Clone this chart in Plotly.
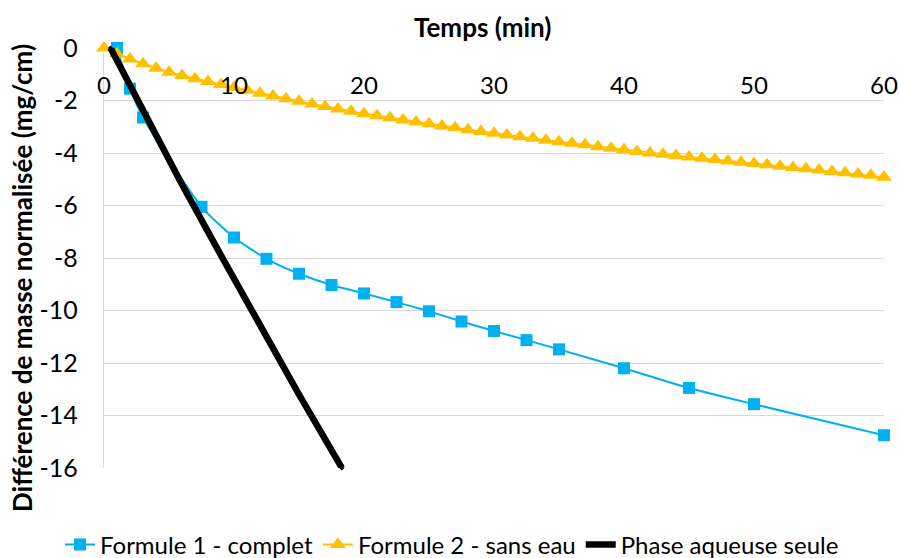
import plotly.graph_objects as go

# Formule 1 - complet
t_f1 = [1, 2, 3, 7.5, 10, 12.5, 15, 17.5, 20, 22.5, 25, 27.5, 30, 32.5, 35, 40, 45, 50, 60]
y_f1 = [0, -1.55, -2.65, -6.05, -7.22, -8.03, -8.6, -9.03, -9.35, -9.68, -10.03, -10.42,
        -10.78, -11.13, -11.48, -12.2, -12.95, -13.57, -14.75]

# Formule 2 - sans eau
t_f2 = list(range(0, 61))
y_f2 = [0, -0.22, -0.42, -0.6, -0.77, -0.92, -1.05, -1.17, -1.28, -1.39,
        -1.5, -1.61, -1.72, -1.83, -1.93, -2.03, -2.13, -2.23, -2.32, -2.41,
        -2.5, -2.58, -2.66, -2.74, -2.82, -2.89, -2.97, -3.04, -3.11, -3.18,
        -3.25, -3.31, -3.38, -3.44, -3.51, -3.57, -3.63, -3.69, -3.76, -3.82,
        -3.88, -3.94, -4.0, -4.05, -4.1, -4.15, -4.2, -4.25, -4.3, -4.35,
        -4.4, -4.45, -4.5, -4.55, -4.6, -4.65, -4.7, -4.75, -4.8, -4.85, -4.92]

# Phase aqueuse seule
t_aq = [0.5, 3, 6, 9, 12, 15, 18.3]
y_aq = [0, -2.4, -5.2, -7.9, -10.6, -13.2, -16.0]

x_ticks = [0, 10, 20, 30, 40, 50, 60]
y_ticks = [0, -2, -4, -6, -8, -10, -12, -14, -16]

FONT = "Lato"
W, H = 899, 558
ML, MR, MT, MB = 104, 15, 48, 90
pw, ph = W - ML - MR, H - MT - MB


def px_x(x):
    return (x - ML) / pw


def px_y(y):
    return (H - MB - y) / ph


fig = go.Figure()
fig.add_trace(go.Scatter(
    x=t_f1, y=y_f1, name="Formule 1 - complet", mode="lines+markers",
    line=dict(color="#00B0F0", width=2, shape="spline", smoothing=0.6),
    marker=dict(symbol="square", size=12, color="#00B0F0"),
    cliponaxis=False))
fig.add_trace(go.Scatter(
    x=t_f2, y=y_f2, name="Formule 2 - sans eau", mode="lines+markers",
    line=dict(color="#FFC000", width=2),
    marker=dict(symbol="triangle-up", size=14, color="#FFC000"),
    cliponaxis=False))
fig.add_trace(go.Scatter(
    x=t_aq, y=y_aq, name="Phase aqueuse seule", mode="lines+markers",
    line=dict(color="#000000", width=6.5),
    marker=dict(symbol="diamond", size=4, color="#000000"),
    cliponaxis=False))

fig.update_layout(
    width=W, height=H,
    margin=dict(l=ML, r=MR, t=MT, b=MB, autoexpand=False),
    paper_bgcolor="white", plot_bgcolor="white",
    font=dict(family=FONT, size=24, color="#000000"),
    showlegend=True,
    legend=dict(orientation="h", x=px_x(452), xanchor="center", xref="paper",
                y=px_y(545), yanchor="middle", font=dict(size=24, color="#000000"),
                itemwidth=30, tracegroupgap=0),
    xaxis=dict(range=[0, 60], tickvals=x_ticks, ticktext=[str(v) for v in x_ticks],
               anchor="free", position=1.0, side="bottom", automargin=False,
               showgrid=False, zeroline=False, showline=False,
               ticks="outside", ticklen=16, tickcolor="rgba(0,0,0,0)",
               tickfont=dict(size=24, color="#000000")),
    yaxis=dict(range=[-16, 0], tickvals=y_ticks, ticktext=[str(v) for v in y_ticks],
               automargin=False,
               showgrid=True, gridcolor="#D9D9D9", gridwidth=1.3,
               zeroline=False, showline=True, linecolor="#D9D9D9", linewidth=1.3,
               ticks="outside", ticklen=20, tickcolor="rgba(0,0,0,0)",
               tickfont=dict(size=25, color="#000000")),
)
fig.add_annotation(text="<b>Temps (min)</b>", x=px_x(482), y=px_y(27), xref="paper", yref="paper",
                   xanchor="center", yanchor="middle",
                   showarrow=False, font=dict(size=26, color="#000000"))
fig.add_annotation(text="<b>Différence de masse normalisée (mg/cm)</b>", x=px_x(22), y=px_y(278),
                   xref="paper", yref="paper", xanchor="center", yanchor="middle",
                   textangle=-90, showarrow=False,
                   font=dict(size=26, color="#000000"))

fig.write_html("out.html", config={"displayModeBar": False},
               post_script="document.body.style.margin='0px';document.body.style.overflow='hidden';")
